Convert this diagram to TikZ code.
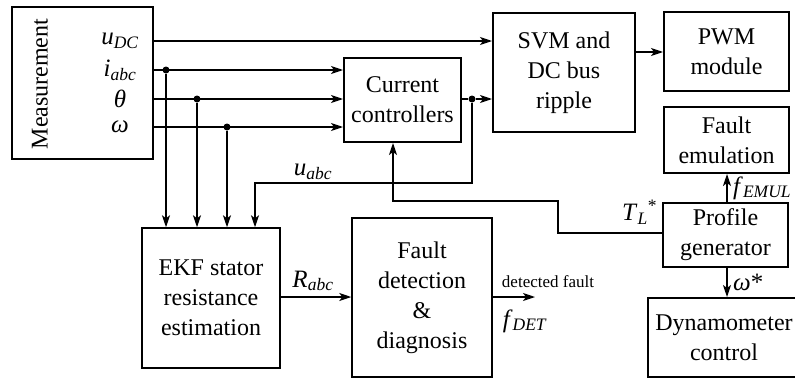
\documentclass[tikz,border=0pt]{standalone}
\usepackage{fontspec}
\setmainfont{Liberation Serif}
\newfontfamily\timesfont{Liberation Serif}
\usetikzlibrary{arrows.meta}
\begin{document}
\begin{tikzpicture}[x=1pt,y=-1pt,
  blk/.style={draw,line width=2pt,rectangle,align=center,inner sep=0pt,
    font=\timesfont\fontsize{24}{30}\selectfont},
  thinblk/.style={blk,line width=1.5pt},
  conn/.style={line width=1.4pt},
  arr/.style={conn,-{Stealth[length=12pt,width=8pt,inset=3pt]}},
  lbl/.style={inner sep=0pt,font=\timesfont\fontsize{25}{28}\selectfont},
  smalllbl/.style={inner sep=0pt,font=\timesfont\fontsize{17}{20}\selectfont},
  dot/.style={circle,fill,inner sep=0pt,minimum size=7pt}]
\useasboundingbox (0,0) rectangle (795,380);
\clip (0,0) rectangle (795,380);
% blocks
\node[blk,minimum width=141pt,minimum height=152pt] (meas) at (82.5,83) {};
\node[inner sep=0pt,rotate=90,font=\timesfont\fontsize{24}{30}\selectfont] (meastxt) at (40,84) {Measurement};
\node[blk,minimum width=117pt,minimum height=84pt] (cc) at (402.5,100) {Current\\controllers};
\node[blk,minimum width=142pt,minimum height=119pt] (svm) at (564,72.5) {SVM and\\DC bus\\ripple};
\node[blk,minimum width=125pt,minimum height=79pt] (pwm) at (726.5,51.5) {PWM\\module};
\node[blk,minimum width=125pt,minimum height=66pt] (emu) at (726.5,140) {Fault\\emulation};
\node[blk,minimum width=125pt,minimum height=64pt] (prof) at (725.5,235) {Profile\\generator};
\node[blk,minimum width=152pt,minimum height=79pt] (dyn) at (724,337.5) {Dynamometer\\control};
\node[thinblk,minimum width=138pt,minimum height=140pt] (ekf) at (211,298) {EKF stator\\resistance\\estimation};
\node[thinblk,minimum width=140pt,minimum height=159pt] (fdd) at (422,297.5) {Fault\\detection\\\&\\diagnosis};
% signal labels
\node[lbl] (udc) at (120,41) {\textit{u}\textsubscript{\textit{DC}}};
\node[lbl] (iabc) at (120,70) {\textit{i}\textsubscript{\textit{abc}}};
\node[lbl] (th) at (120,99) {\textit{θ}};
\node[lbl] (om) at (120,127) {\textit{ω}};
% coordinates / dots
\coordinate (uo) at (153,41);
\coordinate (io) at (153,70);
\coordinate (to) at (153,99);
\coordinate (oo) at (153,127);
\node[dot] (di) at (166,70) {};
\node[dot] (dt) at (197,99) {};
\node[dot] (dw) at (227,127) {};
\node[dot] (dc) at (472,99) {};
\coordinate (fout) at (535,297);
% connectors
\draw[arr] (uo) -- (uo -| svm.west);
\draw[arr] (io) -- (io -| cc.west);
\draw[arr] (to) -- (to -| cc.west);
\draw[arr] (oo) -- (oo -| cc.west);
\draw[arr] (di) -- (di |- ekf.north);
\draw[arr] (dt) -- (dt |- ekf.north);
\draw[arr] (dw) -- (dw |- ekf.north);
\draw[conn] (cc.east |- dc) -- (dc);
\draw[arr] (dc) -- (dc -| svm.west);
\draw[arr] (dc) -- (472,183) -- (255,183) -- (255,0 |- ekf.north);
\draw[arr] (svm.east |- 0,52) -- (pwm.west |- 0,52);
\draw[arr] (prof.west |- 0,233) -- (558,233) -- (558,201) -- (393,201) -- (393,0 |- cc.south);
\draw[arr] (prof.north -| 727,0) -- (emu.south -| 727,0);
\draw[arr] (prof.south -| 727,0) -- (dyn.north -| 727,0);
\draw[arr] (ekf.east |- 0,297) -- (fdd.west |- 0,297);
\draw[arr] (fdd.east |- fout) -- (fout);
% connector labels
\node[lbl] (uabc) at (313,172) {\textit{u}\textsubscript{\textit{abc}}};
\node[lbl] (rabc) at (313,281) {\textit{R}\textsubscript{\textit{abc}}};
\node[lbl,anchor=west] (tl) at (622,212) {\textit{T}\textsubscript{\textit{L}}\textsuperscript{*}};
\node[lbl,anchor=west] (femul) at (733,188) {\textit{f}\textsubscript{\textit{EMUL}}};
\node[lbl,anchor=west] (wstar) at (733,282) {\textit{ω}*};
\node[smalllbl] (detf) at (548,282) {detected fault};
\node[lbl] (fdet) at (525,321) {\textit{f}\textsubscript{\textit{DET}}};
\end{tikzpicture}
\end{document}
